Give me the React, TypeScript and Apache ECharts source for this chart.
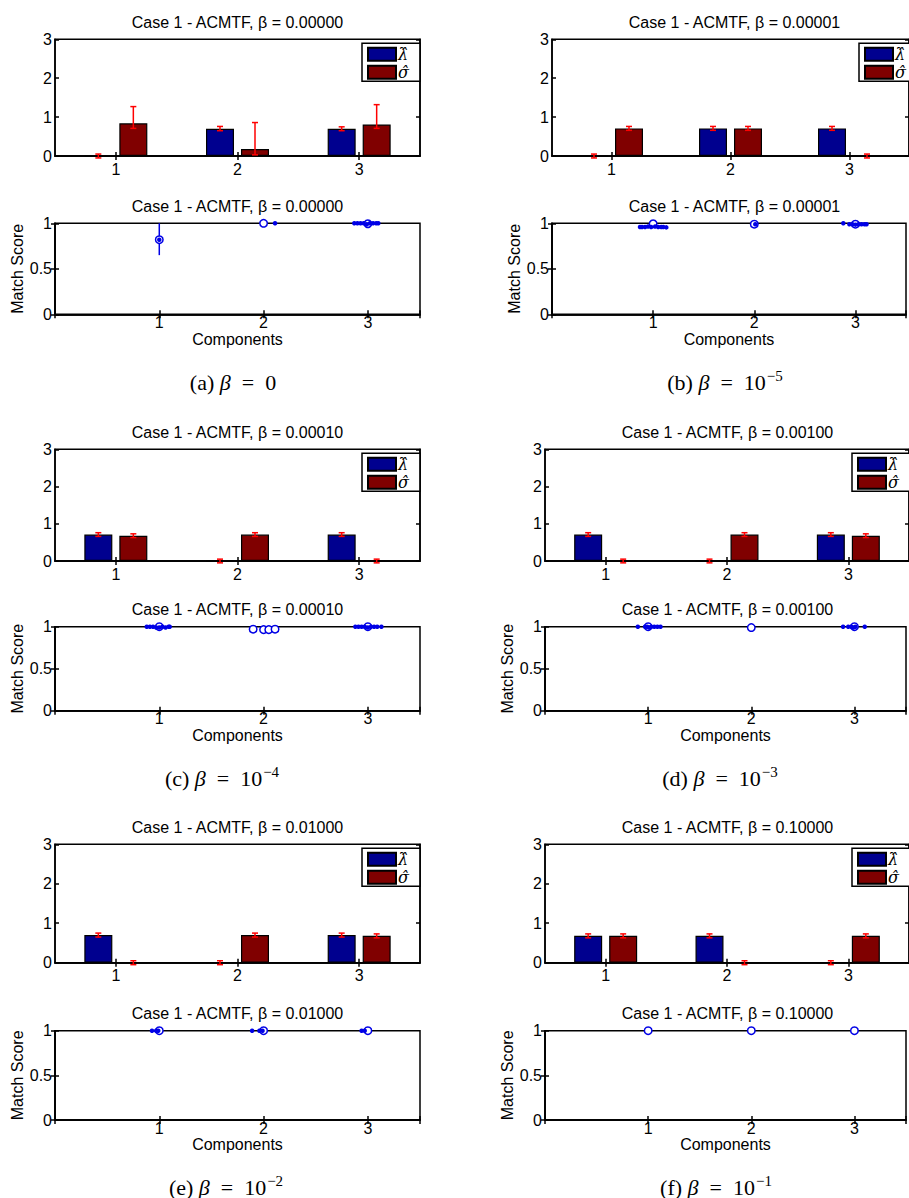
import React, { useEffect, useRef } from 'react';
import * as echarts from 'echarts';

// ---------- data ----------
const components = ['1', '2', '3'];
const betaValues = ['0.00000', '0.00001', '0.00010', '0.00100', '0.01000', '0.10000'];
const captionLabels = ['(a)', '(b)', '(c)', '(d)', '(e)', '(f)'];
const captionBases = ['0', '10', '10', '10', '10', '10'];
const captionExponents = ['', '−5', '−4', '−3', '−2', '−1'];
const legendNames = ['λ̂', 'σ̂'];

// bar heights (λ and σ) and their error ranges [low, high] per component
const lambdaA = [0.0, 0.7, 0.7];
const lambdaErrA = [[-0.05, 0.05], [0.65, 0.76], [0.65, 0.75]];
const sigmaA = [0.84, 0.18, 0.81];
const sigmaErrA = [[0.71, 1.27], [0.03, 0.86], [0.71, 1.32]];

const lambdaB = [0.0, 0.71, 0.71];
const lambdaErrB = [[-0.05, 0.05], [0.66, 0.76], [0.66, 0.76]];
const sigmaB = [0.71, 0.71, 0.0];
const sigmaErrB = [[0.66, 0.76], [0.66, 0.76], [-0.05, 0.05]];

const lambdaC = [0.71, 0.0, 0.71];
const lambdaErrC = [[0.66, 0.76], [-0.05, 0.05], [0.66, 0.76]];
const sigmaC = [0.68, 0.71, 0.0];
const sigmaErrC = [[0.63, 0.73], [0.66, 0.76], [-0.05, 0.05]];

const lambdaD = [0.71, 0.0, 0.71];
const lambdaErrD = [[0.66, 0.76], [-0.05, 0.05], [0.66, 0.76]];
const sigmaD = [0.0, 0.71, 0.68];
const sigmaErrD = [[-0.05, 0.05], [0.66, 0.76], [0.63, 0.73]];

const lambdaE = [0.7, 0.0, 0.7];
const lambdaErrE = [[0.65, 0.75], [-0.05, 0.05], [0.65, 0.75]];
const sigmaE = [0.0, 0.7, 0.68];
const sigmaErrE = [[-0.05, 0.05], [0.65, 0.75], [0.63, 0.73]];

const lambdaF = [0.68, 0.68, 0.0];
const lambdaErrF = [[0.63, 0.73], [0.63, 0.73], [-0.05, 0.05]];
const sigmaF = [0.68, 0.0, 0.68];
const sigmaErrF = [[0.63, 0.73], [-0.05, 0.05], [0.63, 0.73]];

// match score: open circles [x, y], filled dots [x, y], error lines [x, low, high]
const ringsA = [[1, 0.82], [2, 1.0], [3, 0.995]];
const dotsA = [[1, 0.82], [2.11, 1.0], [2.87, 1.0], [2.9, 1.0], [2.93, 1.0], [2.96, 1.0], [2.99, 0.99], [3.02, 1.0], [3.05, 1.0], [3.08, 1.0], [3.1, 1.0]];
const matchErrA = [[1, 0.65, 1.0]];

const ringsB = [[1, 0.995], [2, 0.99], [3, 0.99]];
const dotsB = [[0.87, 0.96], [0.89, 0.96], [0.92, 0.96], [0.95, 0.965], [0.98, 0.96], [1.02, 0.965], [1.05, 0.96], [1.08, 0.96], [1.1, 0.96], [1.13, 0.955], [2.01, 0.99], [2.88, 1.0], [2.94, 0.99], [2.97, 0.99], [3.0, 0.985], [3.03, 0.99], [3.06, 0.99], [3.09, 0.99], [3.11, 0.99]];
const matchErrB: number[][] = [];

const ringsC = [[1, 1.0], [1.9, 0.97], [2.0, 0.965], [2.05, 0.965], [2.11, 0.97], [3, 1.0]];
const dotsC = [[0.88, 1.0], [0.91, 1.0], [0.94, 1.0], [0.97, 0.99], [1.0, 0.99], [1.03, 1.0], [1.06, 0.99], [1.09, 1.0], [1.1, 1.0], [2.88, 1.0], [2.91, 1.0], [2.94, 1.0], [2.97, 1.0], [3.0, 0.99], [3.03, 1.0], [3.06, 1.0], [3.09, 1.0], [3.13, 1.0]];
const matchErrC: number[][] = [];

const ringsD = [[1, 1.0], [2, 0.99], [3, 1.0]];
const dotsD = [[0.9, 1.0], [0.97, 1.0], [0.99, 1.0], [1.01, 0.99], [1.03, 1.0], [1.06, 1.0], [1.09, 1.0], [1.12, 1.0], [2.89, 1.0], [2.94, 1.0], [2.97, 1.0], [2.99, 0.99], [3.01, 1.0], [3.1, 1.0]];
const matchErrD: number[][] = [];

const ringsE = [[1, 1.0], [2, 1.0], [3, 1.0]];
const dotsE = [[0.93, 1.0], [0.97, 1.0], [0.99, 1.0], [1.89, 1.0], [1.96, 1.0], [1.99, 1.0], [2.94, 1.0], [2.97, 1.0]];
const matchErrE: number[][] = [];

const ringsF = [[1, 1.0], [2, 1.0], [3, 1.0]];
const dotsF: number[][] = [];
const matchErrF: number[][] = [];

const panels = [
  { lambda: lambdaA, lambdaErr: lambdaErrA, sigma: sigmaA, sigmaErr: sigmaErrA, rings: ringsA, dots: dotsA, matchErr: matchErrA },
  { lambda: lambdaB, lambdaErr: lambdaErrB, sigma: sigmaB, sigmaErr: sigmaErrB, rings: ringsB, dots: dotsB, matchErr: matchErrB },
  { lambda: lambdaC, lambdaErr: lambdaErrC, sigma: sigmaC, sigmaErr: sigmaErrC, rings: ringsC, dots: dotsC, matchErr: matchErrC },
  { lambda: lambdaD, lambdaErr: lambdaErrD, sigma: sigmaD, sigmaErr: sigmaErrD, rings: ringsD, dots: dotsD, matchErr: matchErrD },
  { lambda: lambdaE, lambdaErr: lambdaErrE, sigma: sigmaE, sigmaErr: sigmaErrE, rings: ringsE, dots: dotsE, matchErr: matchErrE },
  { lambda: lambdaF, lambdaErr: lambdaErrF, sigma: sigmaF, sigmaErr: sigmaErrF, rings: ringsF, dots: dotsF, matchErr: matchErrF },
];

// ---------- layout / style ----------
const layout = [
  { left: 55, barTop: 39.3, barH: 116.7, matchTop: 223.3, matchH: 91, capX: 233, capY: 382 },
  { left: 552, barTop: 39.3, barH: 116.7, matchTop: 223.3, matchH: 91, capX: 725, capY: 382 },
  { left: 55, barTop: 449.3, barH: 111.7, matchTop: 626.7, matchH: 84, capX: 222, capY: 778 },
  { left: 545, barTop: 449.3, barH: 111.7, matchTop: 626.7, matchH: 84, capX: 720, capY: 778 },
  { left: 55, barTop: 844.3, barH: 118.4, matchTop: 1030.7, matchH: 89.3, capX: 226, capY: 1187 },
  { left: 545, barTop: 844.3, barH: 118.4, matchTop: 1030.7, matchH: 89.3, capX: 716, capY: 1187 },
];
const PLOT_W = 365;
const BAR_W = 28;
const BAR_GAP = 7;
const FONT = '"Liberation Sans", Arial, Helvetica, sans-serif';
const SERIF = '"Liberation Serif", serif';
const LEGEND_FONT = '"DejaVu Serif", serif';
const BLUE_BAR = '#00008f';
const RED_BAR = '#800000';
const ERR_RED = '#ff0000';
const MATCH_BLUE = '#0000e6';
const LINE = { color: '#000', width: 1.5 };
const SP = '\u00A0\u00A0';

function barX(gridIndex: number, position: string, labels: boolean) {
  return {
    type: 'category', gridIndex, position, data: components,
    axisLine: { show: true, lineStyle: LINE },
    axisTick: { show: true, inside: true, alignWithLabel: true, length: 4, lineStyle: LINE },
    axisLabel: { show: labels, color: '#000', fontSize: 16, fontFamily: FONT, margin: 5 },
    splitLine: { show: false },
  };
}
function barY(gridIndex: number, position: string, labels: boolean) {
  return {
    type: 'value', gridIndex, position, min: 0, max: 3, interval: 1,
    axisLine: { show: true, lineStyle: LINE },
    axisTick: { show: true, inside: true, length: 4, lineStyle: LINE },
    axisLabel: { show: labels, color: '#000', fontSize: 16, fontFamily: FONT, margin: 3 },
    splitLine: { show: false },
  };
}
function matchX(gridIndex: number, position: string, labels: boolean) {
  return {
    type: 'value', gridIndex, position, min: 0, max: 3.5, interval: 1,
    name: labels ? 'Components' : '', nameLocation: 'middle', nameGap: 14,
    nameTextStyle: { color: '#000', fontSize: 16, fontFamily: FONT },
    axisLine: { show: true, lineStyle: LINE },
    axisTick: { show: true, inside: true, length: 4, lineStyle: LINE },
    axisLabel: {
      show: labels, color: '#000', fontSize: 16, fontFamily: FONT, margin: 0,
      formatter: (v: number) => (v >= 1 && v <= 3 && Number.isInteger(v) ? String(v) : ''),
    },
    splitLine: { show: false },
  };
}
function matchY(gridIndex: number, position: string, labels: boolean) {
  return {
    type: 'value', gridIndex, position, min: 0, max: 1, interval: 0.5,
    name: labels ? 'Match Score' : '', nameLocation: 'middle', nameGap: 26, nameRotate: 90,
    nameTextStyle: { color: '#000', fontSize: 16, fontFamily: FONT },
    axisLine: { show: true, lineStyle: LINE },
    axisTick: { show: true, inside: true, length: 4, lineStyle: LINE },
    axisLabel: { show: labels, color: '#000', fontSize: 16, fontFamily: FONT, margin: 3 },
    splitLine: { show: false },
  };
}

function buildOption() {
  const grid: any[] = [];
  const xAxis: any[] = [];
  const yAxis: any[] = [];
  const series: any[] = [];
  const legend: any[] = [];
  const graphic: any[] = [];
  const offset = (BAR_W + BAR_GAP) / 2;

  panels.forEach((p, i) => {
    const L = layout[i];
    const gb = grid.length;
    grid.push({ left: L.left, top: L.barTop, width: PLOT_W, height: L.barH, show: true, borderColor: '#000', borderWidth: 1.5, backgroundColor: '#fff' });
    const gm = grid.length;
    grid.push({ left: L.left, top: L.matchTop, width: PLOT_W, height: L.matchH, show: true, borderColor: '#000', borderWidth: 1.5, backgroundColor: '#fff' });

    const xb = xAxis.length;
    xAxis.push(barX(gb, 'bottom', true), barX(gb, 'top', false));
    const xm = xAxis.length;
    xAxis.push(matchX(gm, 'bottom', true), matchX(gm, 'top', false));
    const yb = yAxis.length;
    yAxis.push(barY(gb, 'left', true), barY(gb, 'right', false));
    const ym = yAxis.length;
    yAxis.push(matchY(gm, 'left', true), matchY(gm, 'right', false));

    const barStyle = (c: string) => ({ color: c, borderColor: '#000', borderWidth: 1.2 });
    series.push({
      type: 'bar', name: legendNames[0], xAxisIndex: xb, yAxisIndex: yb, data: p.lambda,
      barWidth: BAR_W, barGap: `${(BAR_GAP / BAR_W) * 100}%`, itemStyle: barStyle(BLUE_BAR),
    });
    series.push({
      type: 'bar', name: legendNames[1], xAxisIndex: xb, yAxisIndex: yb, data: p.sigma,
      barWidth: BAR_W, barGap: `${(BAR_GAP / BAR_W) * 100}%`, itemStyle: barStyle(RED_BAR),
    });

    const errData: number[][] = [];
    p.lambdaErr.forEach((e, k) => errData.push([k, e[0], e[1], -1]));
    p.sigmaErr.forEach((e, k) => errData.push([k, e[0], e[1], 1]));
    series.push({
      type: 'custom', xAxisIndex: xb, yAxisIndex: yb, data: errData, z: 10, clip: false,
      renderItem: (params: any, api: any) => {
        const c = api.value(0);
        const lo = api.coord([c, api.value(1)]);
        const hi = api.coord([c, api.value(2)]);
        const x = lo[0] + api.value(3) * offset;
        const cap = 3;
        const st = { stroke: ERR_RED, lineWidth: 1.5 };
        return {
          type: 'group',
          children: [
            { type: 'line', shape: { x1: x, y1: lo[1], x2: x, y2: hi[1] }, style: st },
            { type: 'line', shape: { x1: x - cap, y1: hi[1], x2: x + cap, y2: hi[1] }, style: st },
            { type: 'line', shape: { x1: x - cap, y1: lo[1], x2: x + cap, y2: lo[1] }, style: st },
          ],
        };
      },
    });

    if (p.matchErr.length) {
      series.push({
        type: 'custom', xAxisIndex: xm, yAxisIndex: ym, data: p.matchErr, z: 3, clip: false,
        renderItem: (params: any, api: any) => {
          const lo = api.coord([api.value(0), api.value(1)]);
          const hi = api.coord([api.value(0), api.value(2)]);
          return { type: 'line', shape: { x1: lo[0], y1: lo[1], x2: hi[0], y2: hi[1] }, style: { stroke: MATCH_BLUE, lineWidth: 1.5 } };
        },
      });
    }
    series.push({
      type: 'scatter', xAxisIndex: xm, yAxisIndex: ym, data: p.rings, clip: false, z: 4,
      symbol: 'circle', symbolSize: 7.5,
      itemStyle: { color: '#fff', borderColor: MATCH_BLUE, borderWidth: 1.5, opacity: 1 },
    });
    series.push({
      type: 'scatter', xAxisIndex: xm, yAxisIndex: ym, data: p.dots, clip: false, z: 5,
      symbol: 'circle', symbolSize: 4.5,
      itemStyle: { color: MATCH_BLUE, opacity: 1 },
    });

    legend.push({
      left: L.left + 307, top: L.barTop + 4, orient: 'vertical',
      data: legendNames, icon: 'rect', itemWidth: 28, itemHeight: 13, itemGap: 2,
      padding: [3, 11, 1, 5], borderColor: '#000', borderWidth: 1.5, backgroundColor: '#fff',
      selectedMode: false,
      textStyle: { fontFamily: LEGEND_FONT, fontStyle: 'italic', fontSize: 16, color: '#000', lineHeight: 14, padding: [0, 0, 0, -3] },
    });

    const cx = L.left + PLOT_W / 2;
    const title = `Case 1 - ACMTF, β = ${betaValues[i]}`;
    graphic.push({
      type: 'text', x: cx, y: L.barTop - 17, silent: true,
      style: { text: title, fontSize: 16, fontFamily: FONT, fill: '#000', align: 'center', verticalAlign: 'middle' },
    });
    graphic.push({
      type: 'text', x: cx, y: L.matchTop - 17, silent: true,
      style: { text: title, fontSize: 16, fontFamily: FONT, fill: '#000', align: 'center', verticalAlign: 'middle' },
    });
    const exp = captionExponents[i];
    const capText = `${captionLabels[i]} {i|β}${SP}=${SP}${captionBases[i]}` + (exp ? `{s|${exp}}` : '');
    graphic.push({
      type: 'text', x: L.capX, y: L.capY, silent: true,
      style: {
        text: capText, fontSize: 22, fontFamily: SERIF, fill: '#000', align: 'center', verticalAlign: 'middle',
        rich: {
          i: { fontSize: 22, fontFamily: SERIF, fontStyle: 'italic', fill: '#000' },
          s: { fontSize: 15, fontFamily: SERIF, fill: '#000', padding: [0, 0, 13, 1] },
        },
      },
    });
  });

  return { animation: false, backgroundColor: '#fff', grid, xAxis, yAxis, series, legend, graphic };
}

export default function App() {
  const ref = useRef<HTMLDivElement>(null);
  useEffect(() => {
    if (!ref.current) return;
    const chart = echarts.init(ref.current, undefined, { renderer: 'svg' });
    chart.setOption(buildOption() as any);
    return () => chart.dispose();
  }, []);
  return <div ref={ref} style={{ position: 'absolute', left: 0, top: 0, width: 909, height: 1198, background: '#fff' }} />;
}
